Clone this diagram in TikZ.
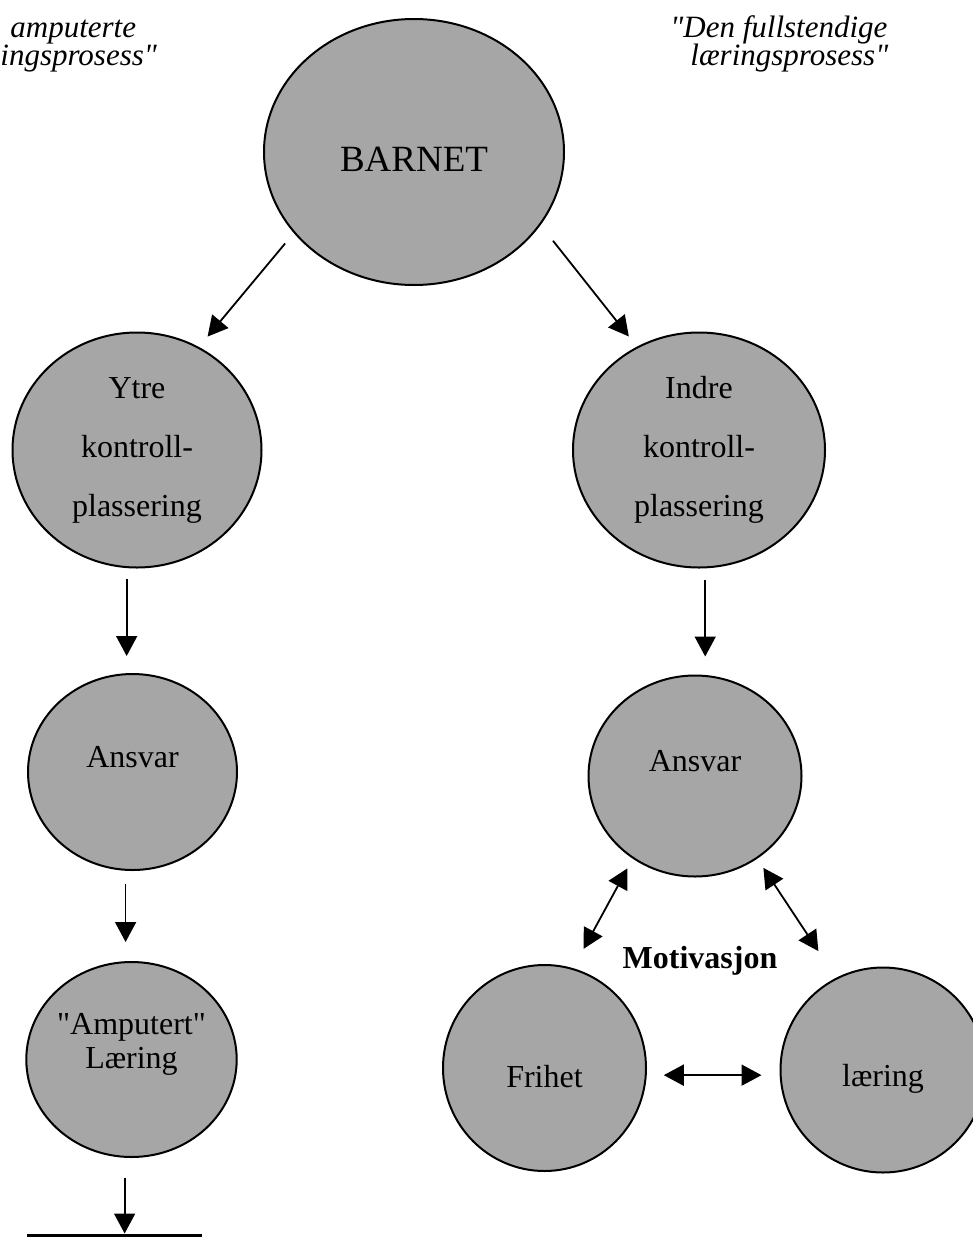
\documentclass[tikz,border=0pt]{standalone}
\usepackage{fontspec}
\setmainfont{Liberation Serif}
\usetikzlibrary{shapes.geometric,arrows.meta}

\begin{document}
\begin{tikzpicture}[x=0.5pt,y=-0.5pt,
        blob/.style={ellipse,draw,line width=1pt,fill=black!35,inner sep=0pt,align=center},
        tall/.style={font=\fontsize{16}{29.5}\selectfont},
        arr/.style={line width=0.9pt,-{Triangle[length=10pt,width=10.5pt]}},
        dbl/.style={line width=0.9pt,{Triangle[length=10pt,width=10.5pt]}-{Triangle[length=10pt,width=10.5pt]}},
        title/.style={font={\fontsize{15.5}{14}\selectfont\itshape\lineskiplimit=-10pt},align=left,inner sep=0pt,anchor=base west},
        font=\fontsize{16}{17}\selectfont]
    \useasboundingbox (0,0) rectangle (973,1237);

    % headings (base = last line)
    \node[title] (ttlL) at (0,65) {\hspace*{5pt}amputerte\\ingsprosess\textquotedbl};
    \node[title] (ttlR) at (670,65) {\textquotedbl Den fullstendige\\\hspace*{10pt}læringsprosess\textquotedbl};

    % circles
    \node[blob,minimum width=150pt,minimum height=133pt,text height=20pt,font=\fontsize{18.5}{20}\selectfont] (barn) at (414,152) {BARNET};
    \node[blob,tall,minimum width=124.5pt,minimum height=117.5pt] (ytre) at (137,450) {Ytre\\kontroll-\\plassering};
    \node[blob,tall,minimum width=126pt,minimum height=117.5pt] (indre) at (699,450) {Indre\\kontroll-\\plassering};
    \node[blob,minimum width=104.5pt,minimum height=98pt,text depth=15pt] (ansL) at (132.5,772) {Ansvar};
    \node[blob,minimum width=106.5pt,minimum height=100.5pt,text depth=15pt] (ansR) at (695,776) {Ansvar};
    \node[blob,minimum width=104.5pt,minimum height=97.5pt,text depth=19pt] (amp) at (131.5,1059.5) {\textquotedbl Amputert\textquotedbl\\Læring};
    \node[blob,minimum width=101.5pt,minimum height=103pt,text height=20pt] (frih) at (544.5,1068) {Frihet};
    \node[blob,minimum width=102.5pt,minimum height=102.5pt,text height=20pt] (laer) at (883,1070) {læring};
    \node[font=\fontsize{16}{17}\selectfont\bfseries] (mot) at (700,961) {Motivasjon};

    % bottom bar
    \coordinate (barL) at (27,1235);
    \coordinate (barR) at (202,1235);
    \draw[line width=1.5pt] (barL) -- (barR);

    % arrows
    \draw[arr,shorten <=6.75pt,shorten >=6.75pt] (barn.214) -- (ytre.59);
    \draw[arr,shorten <=10pt,shorten >=6.5pt] (barn.330) -- (indre.121);
    \draw[arr,shorten <=5.5pt,shorten >=8.5pt] (ytre.265) -- (ytre.265 |- ansL.north);
    \draw[arr,shorten <=6.5pt,shorten >=9.5pt] (ansL.266) -- (ansL.266 |- amp.north);
    \draw[arr,shorten <=10pt,shorten >=0.75pt] (amp.266) -- (amp.266 |- barL);
    \draw[arr,shorten <=5.75pt,shorten >=9pt] (indre.273) -- (indre.273 |- ansR.north);
    \draw[dbl,shorten <=5.5pt,shorten >=11pt] (ansR.233) -- (frih.74);
    \draw[dbl,shorten <=5.5pt,shorten >=16pt] (ansR.307) -- (laer.117);
    \draw[dbl,shorten <=8.5pt,shorten >=9pt] (frih.-4) -- (frih.-4 -| laer.west);
\end{tikzpicture}
\end{document}
